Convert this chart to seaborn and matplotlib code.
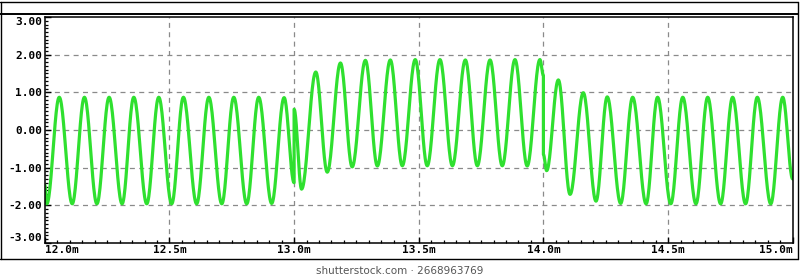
import numpy as np
import pandas as pd
import matplotlib
matplotlib.use("Agg")
import matplotlib.pyplot as plt
import seaborn as sns
from matplotlib.lines import Line2D
from matplotlib.ticker import FixedLocator, FixedFormatter, MultipleLocator

# ---- data: waveform extrema / jump points ----
seg1_t = [12.000, 12.008, 12.058, 12.110, 12.159, 12.209, 12.258, 12.310, 12.357,
          12.409, 12.457, 12.509, 12.556, 12.609, 12.658, 12.710, 12.758, 12.810,
          12.858, 12.910, 12.960, 13.000]
seg1_v = [-1.46, -1.96, 0.87, -1.96, 0.87, -1.96, 0.87, -1.96, 0.87,
          -1.96, 0.87, -1.96, 0.87, -1.96, 0.87, -1.96, 0.87, -1.96,
          0.87, -1.95, 0.86, -1.40]

seg2_t = [13.000, 13.030, 13.087, 13.133, 13.186, 13.233, 13.286, 13.334, 13.386,
          13.434, 13.486, 13.534, 13.585, 13.635, 13.687, 13.735, 13.786, 13.835,
          13.886, 13.935, 13.986, 14.000]
seg2_v = [0.55, -1.57, 1.54, -1.12, 1.78, -0.98, 1.85, -0.955, 1.86,
          -0.95, 1.87, -0.95, 1.87, -0.95, 1.86, -0.95, 1.86, -0.95,
          1.87, -0.955, 1.87, 1.45]

seg3_t = [14.000, 14.013, 14.060, 14.107, 14.160, 14.211, 14.256, 14.310, 14.358,
          14.412, 14.458, 14.511, 14.559, 14.612, 14.659, 14.711, 14.759, 14.811,
          14.858, 14.912, 14.960, 15.000]
seg3_v = [-0.65, -1.08, 1.33, -1.71, 0.99, -1.89, 0.88, -1.95, 0.87,
          -1.96, 0.87, -1.96, 0.87, -1.96, 0.87, -1.96, 0.87, -1.96,
          0.87, -1.96, 0.87, -1.30]

x_ticks = [12.0, 12.5, 13.0, 13.5, 14.0, 14.5, 15.0]
x_labels = ["12.0m", "12.5m", "13.0m", "13.5m", "14.0m", "14.5m", "15.0m"]
y_ticks = [-3, -2, -1, 0, 1, 2, 3]
y_labels = ["-3.00", "-2.00", "-1.00", "0.00", "1.00", "2.00", "3.00"]
watermark = "shutterstock.com \u00b7 2668963769"


def smooth(ts, vs, n=24):
    """Half-cosine shape between consecutive extrema."""
    out_t, out_v = [], []
    for i in range(len(ts) - 1):
        s = np.linspace(0, 1, n, endpoint=False)
        w = (1 - np.cos(np.pi * s)) / 2
        out_t.extend(ts[i] + (ts[i + 1] - ts[i]) * s)
        out_v.extend(vs[i] + (vs[i + 1] - vs[i]) * w)
    out_t.append(ts[-1])
    out_v.append(vs[-1])
    return out_t, out_v


parts_t, parts_v = [], []
for ts, vs in [(seg1_t, seg1_v), (seg2_t, seg2_v), (seg3_t, seg3_v)]:
    a, b = smooth(ts, vs)
    parts_t += a
    parts_v += b
df = pd.DataFrame({"t": parts_t, "v": parts_v})

sns.set_style("white")
plt.rcParams["font.family"] = ["DejaVu Sans Mono", "DejaVu Sans"]

fig = plt.figure(figsize=(8, 2.8), dpi=100)
ax = fig.add_axes([44.8 / 800, 1 - 243 / 280, (792.7 - 44.8) / 800, (243 - 17) / 280])

sns.lineplot(data=df, x="t", y="v", ax=ax, sort=False, estimator=None,
             color="#2fe02f", linewidth=2.3)

ax.set_xlim(12.0, 15.0)
ax.set_ylim(-3.0, 3.0)
ax.set_xlabel("")
ax.set_ylabel("")

ax.xaxis.set_major_locator(FixedLocator(x_ticks))
ax.xaxis.set_major_formatter(FixedFormatter(x_labels))
ax.xaxis.set_minor_locator(MultipleLocator(0.05))
ax.yaxis.set_major_locator(FixedLocator(y_ticks))
ax.yaxis.set_major_formatter(FixedFormatter(y_labels))
ax.yaxis.set_minor_locator(MultipleLocator(0.1))

ax.tick_params(axis="both", which="both", direction="in", colors="black",
               bottom=True, left=True, top=False, right=False)
ax.tick_params(axis="both", which="major", length=4.5, width=1.0)
ax.tick_params(axis="both", which="minor", length=2.2, width=0.9)
ax.tick_params(axis="x", which="major", pad=1.5, labelsize=8)
ax.tick_params(axis="y", which="major", pad=2.0, labelsize=8)
for lab in ax.get_xticklabels() + ax.get_yticklabels():
    lab.set_fontweight("bold")

xl = ax.get_xticklabels()
xl[0].set_horizontalalignment("left")
xl[-1].set_horizontalalignment("right")
yl = ax.get_yticklabels()
yl[0].set_verticalalignment("bottom")
yl[-1].set_verticalalignment("top")

ax.grid(False)
for xv in x_ticks[1:-1]:
    ax.axvline(xv, color="#8a8a8a", lw=0.9, ls=(0, (4, 3.5)), zorder=0)
for yv in y_ticks[1:-1]:
    ax.axhline(yv, color="#8a8a8a", lw=0.9, ls=(0, (4, 3.5)), zorder=0)

for sp in ax.spines.values():
    sp.set_color("black")
    sp.set_linewidth(1.1)
    sp.set_visible(True)

# outer frame
def hline(ypx, x0=0.0, x1=798.0, lw=1.0):
    fig.add_artist(Line2D([x0 / 800, x1 / 800], [1 - ypx / 280] * 2,
                          transform=fig.transFigure, color="black", lw=lw))

def vline(xpx, y0=1.5, y1=258.5, lw=1.0):
    fig.add_artist(Line2D([xpx / 800] * 2, [1 - y0 / 280, 1 - y1 / 280],
                          transform=fig.transFigure, color="black", lw=lw))

hline(1.5)
hline(13.5, lw=1.4)
hline(258.5)
vline(0.6)
vline(797.6)

fig.text(0.5, 1 - 270.5 / 280, watermark, ha="center", va="center",
         fontsize=7.5, color="#555555", family="DejaVu Sans")

fig.savefig("out.png", dpi=100, facecolor="white")
